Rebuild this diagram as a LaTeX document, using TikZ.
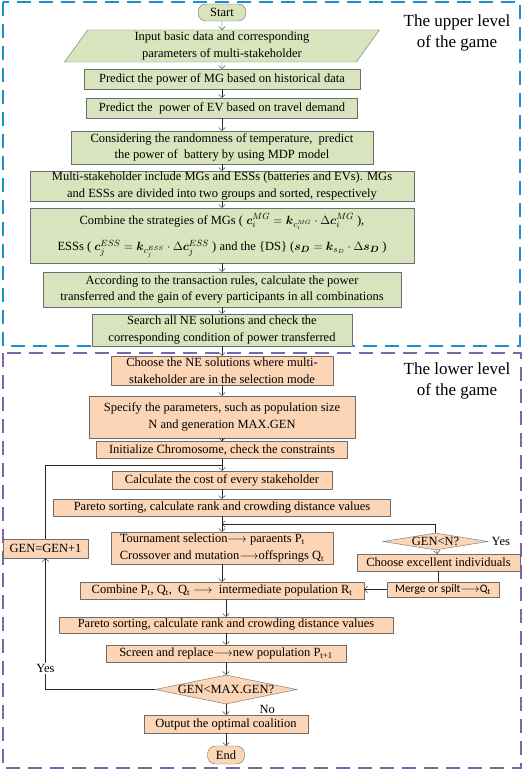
\documentclass[tikz,border=0pt]{standalone}
\usepackage{amsmath}
\usepackage{fontspec}
\setmainfont{Liberation Serif}
\newfontfamily\calibfont{Carlito}
\usetikzlibrary{arrows.meta,positioning,calc,shapes.geometric}

\definecolor{upfill}{RGB}{215,228,189}
\definecolor{lowfill}{RGB}{251,213,181}
\definecolor{boxline}{RGB}{110,110,110}
\definecolor{arrowline}{RGB}{40,40,40}
\definecolor{upblue}{RGB}{31,142,205}
\definecolor{lowpurple}{RGB}{128,100,170}

\begin{document}
\begin{tikzpicture}[x=1pt, y=-1pt, >={Straight Barb[length=3pt,width=6.5pt]},
  font=\fontsize{12.5}{16.5}\selectfont,
  upbox/.style={draw=boxline, fill=upfill, align=center, inner sep=1pt},
  lowbox/.style={draw=boxline, fill=lowfill, align=center, inner sep=1pt},
  term/.style={draw=boxline, rounded corners=8pt, inner sep=1pt},
  decide/.style={diamond, draw=boxline, fill=lowfill, inner sep=0pt},
  flow/.style={->, draw=arrowline},
  link/.style={draw=arrowline},
  frame/.style={dash pattern=on 14pt off 8pt, line width=1.1pt}]
  \useasboundingbox (0,0) rectangle (526,770);

  % dashed frames of the two levels
  \draw[frame, draw=upblue] (3,2) rectangle (520,346);
  \draw[frame, draw=lowpurple] (3,353) rectangle (521,768);
  \node[font=\fontsize{17}{21.5}\selectfont, align=center] (uptitle) at (457,33) {The upper level\\of the game};
  \node[font=\fontsize{17}{21.5}\selectfont, align=center] (lowtitle) at (457,381) {The lower level\\of the game};

  % upper level
  \node[term, fill=upfill, minimum width=48, minimum height=17] (start) at (222,12.5) {Start};
  \node[trapezium, trapezium left angle=63, trapezium right angle=117, trapezium stretches=true,
        draw=boxline, fill=upfill, align=center, inner sep=1pt, minimum width=315, minimum height=32]
        (input) at (222,46) {Input basic data and corresponding\\parameters of multi-stakeholder};
  \node[upbox, minimum width=276, minimum height=20] (mg) at (222,79) {Predict the power of MG based on historical data};
  \node[upbox, minimum width=271, minimum height=20] (ev) at (222,108) {Predict the \ power of EV based on travel demand};
  \node[upbox, minimum width=302, minimum height=33] (bat) at (222,147.5) {Considering the randomness of temperature, \ predict\\the power of \ battery by using MDP model};
  \node[upbox, minimum width=384, minimum height=30] (multi) at (222,186) {Multi-stakeholder include MGs and ESSs (batteries and EVs). MGs\\and ESSs are divided into two groups and sorted, respectively};
  \node[upbox, minimum width=384, minimum height=55] (comb) at (222,235.5)
    {Combine the strategies of MGs ( $\boldsymbol{c}_i^{MG}=\boldsymbol{k}_{c_i^{MG}}\cdot\Delta\boldsymbol{c}_i^{MG}$ ),\\[10pt]
     ESSs ( $\boldsymbol{c}_j^{ESS}=\boldsymbol{k}_{c_j^{ESS}}\cdot\Delta\boldsymbol{c}_j^{ESS}$ ) and the \{DS\} ($\boldsymbol{s}_{\boldsymbol{D}}=\boldsymbol{k}_{s_D}\cdot\Delta\boldsymbol{s}_{\boldsymbol{D}}$ )};
  \node[upbox, minimum width=358, minimum height=35] (rule) at (222,289.5) {According to the transaction rules, calculate the power\\transferred and the gain of every participants in all combinations};
  \node[upbox, minimum width=260, minimum height=32] (ne) at (222,330) {Search all NE solutions and check the\\corresponding condition of power transferred};

  % lower level
  \node[lowbox, minimum width=222, minimum height=29] (choose) at (222,370.5) {Choose the NE solutions where multi-\\stakeholder are in the selection mode};
  \node[lowbox, minimum width=266, minimum height=42] (spec) at (222,417) {Specify the parameters, such as population size\\N and generation MAX.GEN};
  \node[lowbox, minimum width=251, minimum height=17] (init) at (222,450) {Initialize Chromosome, check the constraints};
  \node[lowbox, minimum width=220, minimum height=18] (cost) at (222,480) {Calculate the cost of every stakeholder};
  \node[lowbox, minimum width=337, minimum height=17] (par1) at (222,507.5) {Pareto sorting, calculate rank and crowding distance values};
  \node[lowbox, align=left, minimum width=222, minimum height=32] (tour) at (222,548)
    {Tournament selection$\longrightarrow$ paraents P\textsubscript{t}\\Crossover and mutation$\longrightarrow$offsprings Q\textsubscript{t}};
  \node[lowbox, minimum width=85, minimum height=19] (gen) at (45.5,548.5) {GEN=GEN+1};
  \node[decide, minimum width=105, minimum height=17, label={[inner sep=0pt]center:GEN<N?}] (dN) at (435.5,541.5) {};
  \node[right=0pt of dN] (yesN) {Yes};
  \node[lowbox, minimum width=163, minimum height=17] (exc) at (438.5,562.5) {Choose excellent individuals};
  \node[lowbox, font=\calibfont\fontsize{11.5}{13}\selectfont, minimum width=112, minimum height=15] (mrg) at (443,589.5) {Merge or spilt$\longrightarrow$Q\textsubscript{t}};
  \node[lowbox, minimum width=284, minimum height=17] (comb2) at (222,590.5) {Combine P\textsubscript{t}, Q\textsubscript{t}, \ Q\textsubscript{t} $\longrightarrow$ \ intermediate population R\textsubscript{t}};
  \node[lowbox, minimum width=334, minimum height=16] (par2) at (226,625) {Pareto sorting, calculate rank and crowding distance values};
  \node[lowbox, minimum width=240, minimum height=17] (scr) at (226,653.5) {Screen and replace$\longrightarrow$new population P\textsubscript{t+1}};
  \node[decide, minimum width=142, minimum height=29, label={[inner sep=0pt]center:GEN<MAX.GEN?}] (dMax) at (226,689.5) {};
  \node[lowbox, minimum width=164, minimum height=18] (out) at (226,724) {Output the optimal coalition};
  \node[term, fill=lowfill, minimum width=37, minimum height=18] (end) at (226,755) {End};

  % main flow
  \draw[flow] (start) -- (input);
  \draw[flow] (input) -- (mg);
  \draw[flow] (mg) -- (ev);
  \draw[flow] (ev) -- (bat);
  \draw[flow] (bat) -- (multi);
  \draw[flow] (multi) -- (comb);
  \draw[flow] (comb) -- (rule);
  \draw[flow] (rule) -- (ne);
  \draw[flow] (ne) -- (choose);
  \draw[flow] (choose) -- (spec);
  \draw[flow] (spec) -- (init);
  \draw[flow] (init) -- (cost);
  \draw[flow] (cost) -- (par1);
  \draw[flow] (par1) -- (tour);
  \draw[flow] (tour) -- (comb2);
  \draw[flow] (comb2.south -| par2) -- (par2);
  \draw[flow] (par2) -- (scr);
  \draw[flow] (scr) -- (dMax);
  \draw[flow] (dMax) -- node[right=30pt] (noMax) {No} (out);
  \draw[flow] (out) -- (end);

  % loops back
  \coordinate (loopin) at ($(init.south)!0.5!(cost.north)$);
  \draw[link] (gen.north) |- (loopin);
  \draw[flow] (dMax.west) -| node[pos=0.58, fill=white, inner sep=1pt] (yesMax) {Yes} (gen.south);
  \coordinate (loopN) at ($(par1.south)!0.5!(tour.north)$);
  \draw[flow] (dN.north) |- (loopN);
  \draw[flow] (dN) -- (exc);
  \draw[link] (exc.south) -- (exc.south |- mrg.north);
  \draw[flow] (mrg.west) -- (mrg.west -| comb2.east);
\end{tikzpicture}
\end{document}
